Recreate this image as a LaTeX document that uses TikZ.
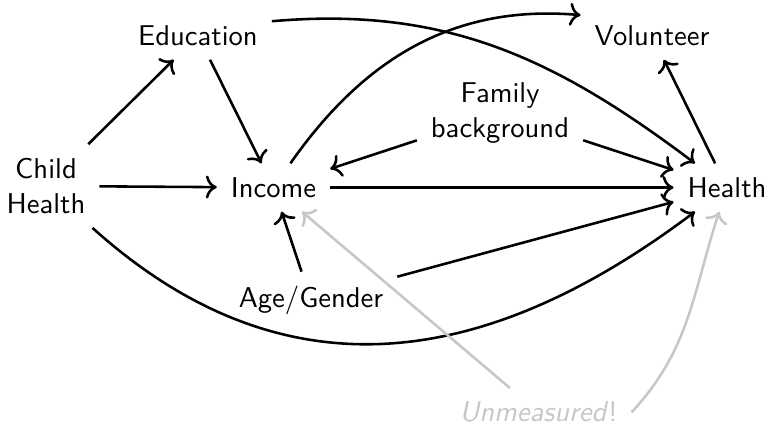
\documentclass[tikz,border=0pt]{standalone}
\usepackage{fontspec}
\usetikzlibrary{arrows.meta}
\begin{document}
\begin{tikzpicture}[x=0.37pt,y=0.37pt,
  font=\sffamily\fontsize{10.6}{13}\selectfont,
  every node/.style={inner sep=5pt, align=center},
  arr/.style={-{To[scale=1.1]}, line width=0.95pt, black},
  grayarr/.style={-{To[scale=1.1]}, line width=0.95pt, black!22}]
\useasboundingbox (0,0) rectangle (768,425);
\node (chi) at (46,239) {Child\\Health};
\node (edu) at (198,389.4) {Education};
\node (inc) at (273.5,237.5) {Income};
\node (vol) at (652,389.4) {Volunteer};
\node (fam) at (500,312) {Family\\background};
\node (hea) at (727,237.5) {Health};
\node (age) at (311,125) {Age/Gender};
\node[text=black!22] (unm) at (538.5,12.7) {\itshape Unmeasured\/\upshape !};
\draw[arr] (chi) -- (edu);
\draw[arr] (chi) -- (inc);
\draw[arr] (edu) -- (inc);
\draw[arr] (edu.11) to[out=5, in=143] (hea);
\draw[arr] (inc) to[out=55, in=175] (vol.164);
\draw[arr] (fam) -- (inc);
\draw[arr] (fam) -- (hea);
\draw[arr] (inc) -- (hea);
\draw[arr] (age) -- (inc);
\draw[arr] (age) -- (hea);
\draw[arr] (hea) -- (vol);
\draw[arr] (chi) to[out=-42, in=-143, looseness=1.1] (hea);
\draw[grayarr] (unm) -- (inc);
\draw[grayarr] (unm.east) to[out=47, in=-108] (hea);
\end{tikzpicture}
\end{document}
